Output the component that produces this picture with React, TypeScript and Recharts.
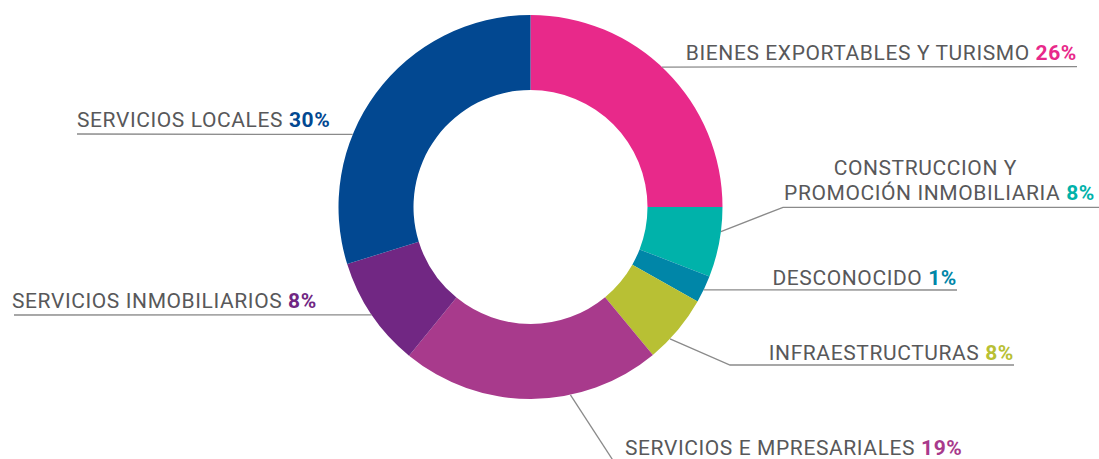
import { PieChart, Pie, Cell } from "recharts";

const categories = [
  "BIENES EXPORTABLES Y TURISMO",
  "CONSTRUCCION Y PROMOCIÓN INMOBILIARIA",
  "DESCONOCIDO",
  "INFRAESTRUCTURAS",
  "SERVICIOS E MPRESARIALES",
  "SERVICIOS INMOBILIARIOS",
  "SERVICIOS LOCALES",
];
// slice sizes as drawn in the picture
const shares = [25, 5.9, 2.3, 5.8, 21.9, 9.3, 29.8];
// percentages as printed in the labels
const pctLabels = ["26%", "8%", "1%", "8%", "19%", "8%", "30%"];
const colors = ["#E8298A", "#00B2AA", "#0086A8", "#B8C034", "#A83A8C", "#712783", "#024891"];

const data = categories.map((name, i) => ({ name, value: shares[i] }));

// label / leader line layout, one entry per slice
type LabelLayout = {
  angle: number;
  elbow?: [number, number];
  lineY: number;
  lineEnd: number;
  textX: number[];
  textY: number;
  anchor: "start" | "end";
  lines: string[];
};
const layout: LabelLayout[] = [
  { angle: 46.8, lineY: 66.7, lineEnd: 1077, textX: [1077], textY: 60, anchor: "end", lines: ["BIENES EXPORTABLES Y TURISMO"] },
  { angle: -7.4, elbow: [783, 207.3], lineY: 207.3, lineEnd: 1099, textX: [1017, 1095], textY: 200, anchor: "end", lines: ["CONSTRUCCION Y", "PROMOCIÓN INMOBILIARIA"] },
  { angle: -25.6, lineY: 290, lineEnd: 957, textX: [957], textY: 285, anchor: "end", lines: ["DESCONOCIDO"] },
  { angle: -43.4, elbow: [730, 365], lineY: 365, lineEnd: 1014, textX: [1014], textY: 360, anchor: "end", lines: ["INFRAESTRUCTURAS"] },
  { angle: -78, elbow: [616, 465], lineY: 465, lineEnd: 616, textX: [625], textY: 455, anchor: "start", lines: ["SERVICIOS E MPRESARIALES"] },
  { angle: 214.2, lineY: 315, lineEnd: 14, textX: [12], textY: 308, anchor: "start", lines: ["SERVICIOS INMOBILIARIOS"] },
  { angle: 157.8, lineY: 134, lineEnd: 77, textX: [77], textY: 126.7, anchor: "start", lines: ["SERVICIOS LOCALES"] },
];

const RAD = Math.PI / 180;
const FONT = "Roboto, 'DejaVu Sans', sans-serif";

const renderLabel = (props: any) => {
  const { cx, cy, outerRadius, index } = props;
  const l = layout[index];
  const sx = cx + outerRadius * Math.cos(-l.angle * RAD);
  const sy = cy + outerRadius * Math.sin(-l.angle * RAD);
  let points = `${sx},${sy}`;
  if (l.elbow) points += ` ${l.elbow[0]},${l.elbow[1]}`;
  if (!l.elbow || l.elbow[0] !== l.lineEnd) points += ` ${l.lineEnd},${l.lineY}`;
  const n = l.lines.length;
  return (
    <g key={`lbl-${index}`}>
      <polyline points={points} fill="none" stroke="#8a8a8a" strokeWidth={1.3} />
      {l.lines.map((line, j) => (
        <text
          key={j}
          x={l.textX[j]}
          y={l.textY - (n - 1 - j) * 25}
          textAnchor={l.anchor}
          fontFamily={FONT}
          fontSize={21}
          letterSpacing={0.6}
          fill="#58585a"
        >
          {line}
          {j === n - 1 && (
            <tspan fill={colors[index]} fontWeight="bold">
              {" " + pctLabels[index]}
            </tspan>
          )}
        </text>
      ))}
    </g>
  );
};

export default function App() {
  return (
    <div style={{ position: "absolute", left: 0, top: 0, width: 1099, height: 459, overflow: "hidden" }}>
      <PieChart width={1099} height={459} margin={{ top: 0, right: 0, bottom: 0, left: 0 }}>
        <Pie
          data={data}
          dataKey="value"
          nameKey="name"
          cx={530.5}
          cy={207}
          innerRadius={117}
          outerRadius={192}
          startAngle={90}
          endAngle={-270}
          stroke="none"
          label={renderLabel}
          labelLine={false}
          isAnimationActive={false}
        >
          {data.map((d, i) => (
            <Cell key={d.name} fill={colors[i]} />
          ))}
        </Pie>
      </PieChart>
    </div>
  );
}
